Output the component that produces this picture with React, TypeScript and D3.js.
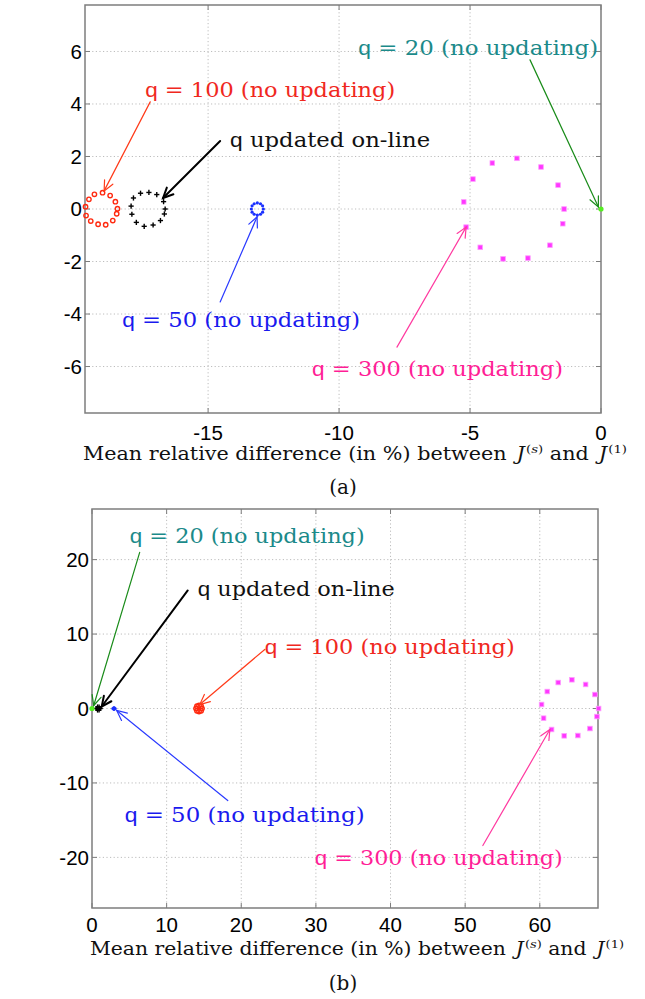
import React from 'react';
import * as d3 from 'd3';

type P = [number, number];

// ---------- Panel (a) data ----------
const q100Top: P[] = [
  [-19.68, 0.09], [-19.55, 0.37], [-19.34, 0.56], [-19.03, 0.62], [-18.74, 0.51], [-18.54, 0.28],
  [-18.46, 0.01], [-18.49, -0.18], [-18.64, -0.44], [-18.91, -0.6], [-19.2, -0.58], [-19.48, -0.46], [-19.66, -0.25],
];
const qOnlineTop: P[] = [
  [-17.94, 0.11], [-17.85, 0.42], [-17.58, 0.6], [-17.26, 0.63], [-16.96, 0.55], [-16.7, 0.28],
  [-16.64, 0.0], [-16.67, -0.19], [-16.82, -0.44], [-17.1, -0.61], [-17.44, -0.66], [-17.74, -0.51], [-17.91, -0.2],
];
const q50Top: P[] = [
  [-12.89, 0], [-12.92, 0.12], [-13.0, 0.2], [-13.12, 0.23], [-13.24, 0.2], [-13.32, 0.12],
  [-13.35, 0], [-13.32, -0.12], [-13.24, -0.2], [-13.12, -0.23], [-13.0, -0.2], [-12.92, -0.12],
];
const q300Top: P[] = [
  [-5.24, 0.27], [-5.15, -0.69], [-4.89, 1.14], [-4.61, -1.46], [-4.15, 1.75], [-3.74, -1.9], [-3.21, 1.93],
  [-2.79, -1.87], [-2.29, 1.6], [-1.95, -1.38], [-1.64, 0.91], [-1.46, -0.56], [-1.41, 0.0],
];
const q20Top: P[] = [[0, 0]];

const xTicksTop = [-15, -10, -5, 0];
const yTicksTop = [-6, -4, -2, 0, 2, 4, 6];

// ---------- Panel (b) data ----------
const q100Bot: P[] = [
  [14.74, 0], [14.62, 0.3], [14.34, 0.4], [14.06, 0.3], [13.94, 0], [14.06, -0.3], [14.34, -0.4], [14.62, -0.3],
];
const qOnlineBot: P[] = [
  [1.1, 0], [0.95, 0.2], [0.75, 0.2], [0.6, 0], [0.75, -0.2], [0.95, -0.2],
];
const q50Bot: P[] = [
  [3.1, 0], [2.95, 0.12], [2.8, 0], [2.95, -0.12],
];
const q300Bot: P[] = [
  [60.24, 0.54], [60.51, -1.3], [61.0, 2.28], [61.58, -2.82], [62.47, 3.49], [63.27, -3.67], [64.3, 3.86],
  [65.1, -3.63], [66.14, 3.23], [66.72, -2.69], [67.39, 1.88], [67.66, -1.08], [67.88, 0.0],
];
const q20Bot: P[] = [[0, 0]];

const xTicksBot = [0, 10, 20, 30, 40, 50, 60];
const yTicksBot = [-20, -10, 0, 10, 20];

// ---------- annotations (data coordinates) ----------
type Ann = { q: string; rest: string; color: string; arrow: string; at: P; w: number; tail: P; head: P; lw: number };

const annTop: Ann[] = [
  { q: 'q', rest: ' = 20 (no updating)', color: '#1b8a8a', arrow: '#1a8c1a', at: [-9.27, 5.87], w: 240, tail: [-2.71, 5.68], head: [-0.1, 0.08], lw: 1.2 },
  { q: 'q', rest: ' = 100 (no updating)', color: '#f0281e', arrow: '#ff3b1a', at: [-17.4, 4.27], w: 250, tail: [-17.21, 4.08], head: [-18.97, 0.69], lw: 1.2 },
  { q: 'q', rest: ' updated on-line', color: '#111111', arrow: '#000000', at: [-14.16, 2.36], w: 200, tail: [-14.54, 2.59], head: [-16.72, 0.42], lw: 2 },
  { q: 'q', rest: ' = 50 (no updating)', color: '#1a1aee', arrow: '#2a3aff', at: [-18.28, -4.5], w: 238, tail: [-14.54, -3.54], head: [-13.13, -0.3], lw: 1.2 },
  { q: 'q', rest: ' = 300 (no updating)', color: '#ff1e96', arrow: '#ff3aa0', at: [-11.03, -6.36], w: 251, tail: [-7.79, -5.26], head: [-5.15, -0.69], lw: 1.2 },
];
const annBot: Ann[] = [
  { q: 'q', rest: ' = 20 (no updating)', color: '#1b8a8a', arrow: '#1a8c1a', at: [5.05, 22.18], w: 235, tail: [6.39, 20.97], head: [0.23, 0.4], lw: 1.2 },
  { q: 'q', rest: ' updated on-line', color: '#111111', arrow: '#000000', at: [14.17, 15.05], w: 197, tail: [12.83, 15.86], head: [1.3, 0.27], lw: 2 },
  { q: 'q', rest: ' = 100 (no updating)', color: '#f0281e', arrow: '#ff3b1a', at: [23.15, 7.26], w: 250, tail: [23.15, 7.93], head: [14.44, 0.54], lw: 1.2 },
  { q: 'q', rest: ' = 50 (no updating)', color: '#1a1aee', arrow: '#2a3aff', at: [4.38, -15.19], w: 240, tail: [18.19, -12.37], head: [3.31, -0.27], lw: 1.2 },
  { q: 'q', rest: ' = 300 (no updating)', color: '#ff1e96', arrow: '#ff3aa0', at: [29.85, -20.97], w: 248, tail: [52.37, -18.41], head: [61.35, -2.82], lw: 1.2 },
];

const SERIF = '"DejaVu Serif", "Liberation Serif", serif';
const SANS = '"Liberation Sans", Arial, sans-serif';

type Series = { pts: P[]; kind: 'o' | '+' | '.' | 's' | 'g'; color: string };

type PanelProps = {
  box: { l: number; t: number; r: number; b: number };
  xDomain: [number, number];
  yDomain: [number, number];
  xTicks: number[];
  yTicks: number[];
  series: Series[];
  anns: Ann[];
  tickY: number;
  labelY: number;
  caption: string;
  captionY: number;
};

function Arrow({ x1, y1, x2, y2, color, lw }: { x1: number; y1: number; x2: number; y2: number; color: string; lw: number }) {
  const ang = Math.atan2(y2 - y1, x2 - x1);
  const L = 11;
  const a = (25 * Math.PI) / 180;
  const p1 = [x2 - L * Math.cos(ang - a), y2 - L * Math.sin(ang - a)];
  const p2 = [x2 - L * Math.cos(ang + a), y2 - L * Math.sin(ang + a)];
  return (
    <g stroke={color} strokeWidth={lw} fill="none" strokeLinecap="round">
      <line x1={x1} y1={y1} x2={x2} y2={y2} />
      <polyline points={`${p1[0]},${p1[1]} ${x2},${y2} ${p2[0]},${p2[1]}`} />
    </g>
  );
}

function Panel(p: PanelProps) {
  const { box } = p;
  const x = d3.scaleLinear().domain(p.xDomain).range([box.l, box.r]);
  const y = d3.scaleLinear().domain(p.yDomain).range([box.b, box.t]);
  const axisColor = '#7d7d7d';
  const gridColor = '#bdbdbd';
  const tl = 5;
  const cx = (box.l + box.r) / 2;
  return (
    <g>
      {/* grid */}
      {p.xTicks.map((t) => {
        const xx = x(t);
        if (Math.abs(xx - box.l) < 2 || Math.abs(xx - box.r) < 2) return null;
        return <line key={'gx' + t} x1={xx} x2={xx} y1={box.t} y2={box.b} stroke={gridColor} strokeDasharray="1.2,2.4" strokeWidth={1} />;
      })}
      {p.yTicks.map((t) => (
        <line key={'gy' + t} x1={box.l} x2={box.r} y1={y(t)} y2={y(t)} stroke={gridColor} strokeDasharray="1.2,2.4" strokeWidth={1} />
      ))}
      {/* ticks */}
      {p.xTicks.map((t) => (
        <g key={'tx' + t} stroke={axisColor} strokeWidth={1}>
          <line x1={x(t)} x2={x(t)} y1={box.b} y2={box.b - tl} />
          <line x1={x(t)} x2={x(t)} y1={box.t} y2={box.t + tl} />
        </g>
      ))}
      {p.yTicks.map((t) => (
        <g key={'ty' + t} stroke={axisColor} strokeWidth={1}>
          <line x1={box.l} x2={box.l + tl} y1={y(t)} y2={y(t)} />
          <line x1={box.r} x2={box.r - tl} y1={y(t)} y2={y(t)} />
        </g>
      ))}
      {/* box */}
      <rect x={box.l} y={box.t} width={box.r - box.l} height={box.b - box.t} fill="none" stroke={axisColor} strokeWidth={1.5} />
      {/* tick labels */}
      {p.xTicks.map((t) => (
        <text key={'lx' + t} x={x(t)} y={p.tickY} textAnchor="middle" fontFamily={SANS} fontSize={20.5} fill="#000">
          {t < 0 ? '-' + Math.abs(t) : String(t)}
        </text>
      ))}
      {p.yTicks.map((t) => (
        <text key={'ly' + t} x={box.l - 3} y={y(t) + 7.3} textAnchor="end" fontFamily={SANS} fontSize={20.5} fill="#000">
          {t < 0 ? '-' + Math.abs(t) : String(t)}
        </text>
      ))}
      {/* series */}
      {p.series.map((s, si) => (
        <g key={'s' + si}>
          {s.pts.map((pt, i) => {
            const px = x(pt[0]);
            const py = y(pt[1]);
            if (s.kind === 'o') return <circle key={i} cx={px} cy={py} r={2.2} fill="none" stroke={s.color} strokeWidth={1.4} />;
            if (s.kind === '+')
              return (
                <g key={i} stroke={s.color} strokeWidth={1.4}>
                  <line x1={px - 2.6} x2={px + 2.6} y1={py} y2={py} />
                  <line x1={px} x2={px} y1={py - 2.6} y2={py + 2.6} />
                </g>
              );
            if (s.kind === '.') return <circle key={i} cx={px} cy={py} r={1.6} fill={s.color} />;
            if (s.kind === 's') return <rect key={i} x={px - 2.3} y={py - 2.3} width={4.6} height={4.6} fill={s.color} stroke="#ff9cff" strokeWidth={0.8} />;
            return <circle key={i} cx={px} cy={py} r={2.6} fill={s.color} />;
          })}
        </g>
      ))}
      {/* annotations */}
      {p.anns.map((a, i) => (
        <g key={'a' + i}>
          <Arrow x1={x(a.tail[0])} y1={y(a.tail[1])} x2={x(a.head[0])} y2={y(a.head[1])} color={a.arrow} lw={a.lw} />
          <text x={x(a.at[0])} y={y(a.at[1])} fill={a.color} fontSize={21} fontFamily={SERIF} textLength={a.w} lengthAdjust="spacingAndGlyphs">
            <tspan fontFamily={SANS}>{a.q}</tspan>
            <tspan>{a.rest}</tspan>
          </text>
        </g>
      ))}
      {/* axis label */}
      <text x={cx + 12} y={p.labelY} textAnchor="middle" fontFamily={SERIF} fontSize={18} fill="#111" textLength={box.r - box.l + 28} lengthAdjust="spacingAndGlyphs">
        <tspan>Mean relative difference (in %) between </tspan>
        <tspan fontStyle="italic" dx={3}>J</tspan>
        <tspan fontSize={11.5} dy={-7} dx={1}>(</tspan>
        <tspan fontSize={11.5} fontStyle="italic">s</tspan>
        <tspan fontSize={11.5}>)</tspan>
        <tspan dy={7}> and </tspan>
        <tspan fontStyle="italic" dx={3}>J</tspan>
        <tspan fontSize={11.5} dy={-7} dx={1}>(1)</tspan>
      </text>
      <text x={343} y={p.captionY} textAnchor="middle" fontFamily={SERIF} fontSize={20} fill="#111">
        {p.caption}
      </text>
    </g>
  );
}

export default function App() {
  return (
    <svg width={645} height={999} viewBox="0 0 645 999" style={{ position: 'absolute', left: 0, top: 0, background: '#fff' }}>
      <rect x={0} y={0} width={645} height={999} fill="#fff" />
      <Panel
        box={{ l: 85, t: 5, r: 601, b: 413 }}
        xDomain={[-19.7, 0]}
        yDomain={[-7.77, 7.77]}
        xTicks={xTicksTop}
        yTicks={yTicksTop}
        series={[
          { pts: q100Top, kind: 'o', color: '#ff2a10' },
          { pts: qOnlineTop, kind: '+', color: '#000' },
          { pts: q50Top, kind: '.', color: '#1a30ff' },
          { pts: q300Top, kind: 's', color: '#ff38ff' },
          { pts: q20Top, kind: 'g', color: '#55ee22' },
        ]}
        anns={annTop}
        tickY={440}
        labelY={460}
        caption="(a)"
        captionY={494}
      />
      <Panel
        box={{ l: 92, t: 509, r: 598, b: 908 }}
        xDomain={[0, 67.8]}
        yDomain={[-26.8, 26.8]}
        xTicks={xTicksBot}
        yTicks={yTicksBot}
        series={[
          { pts: q100Bot, kind: 'o', color: '#ff2a10' },
          { pts: qOnlineBot, kind: '+', color: '#000' },
          { pts: q50Bot, kind: '.', color: '#1a30ff' },
          { pts: q300Bot, kind: 's', color: '#ff38ff' },
          { pts: q20Bot, kind: 'g', color: '#55ee22' },
        ]}
        anns={annBot}
        tickY={932}
        labelY={955}
        caption="(b)"
        captionY={990}
      />
    </svg>
  );
}
